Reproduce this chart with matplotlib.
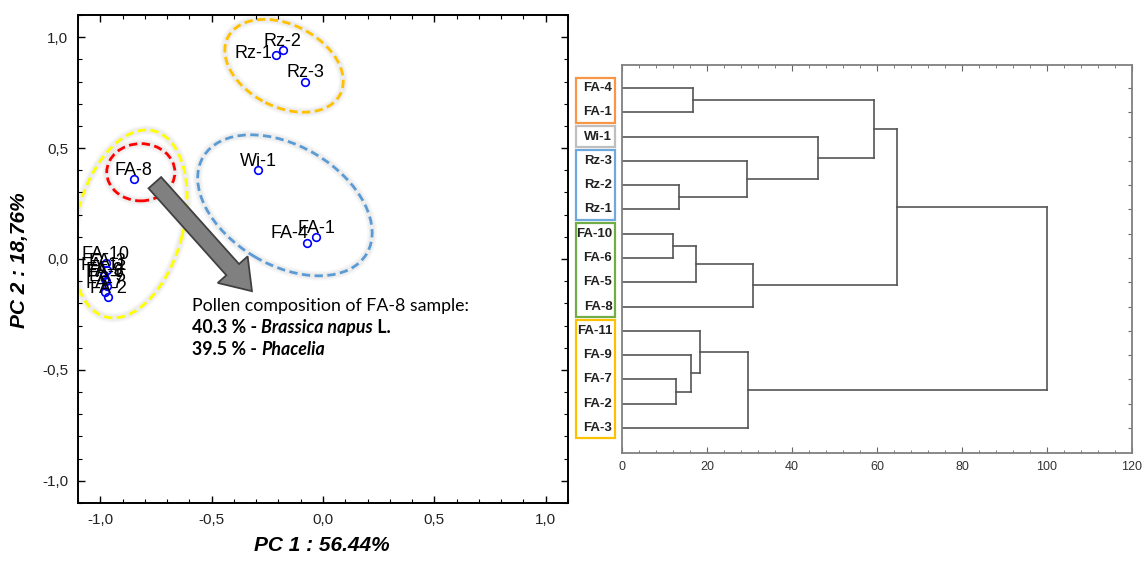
import matplotlib
matplotlib.use("Agg")
import matplotlib.pyplot as plt
from matplotlib.patches import Ellipse, Rectangle
from matplotlib.ticker import MultipleLocator, FuncFormatter

plt.rcParams['font.family'] = ['Liberation Sans', 'DejaVu Sans']

# ---- PCA scores ----
samples = ["Rz-1", "Rz-2", "Rz-3", "Wi-1", "FA-8", "FA-1", "FA-4",
           "FA-10", "FA-3", "FA-11", "FA-9", "FA-6", "FA-5", "FA-7", "FA-2"]
pc1 = [-0.21, -0.18, -0.08, -0.29, -0.85, -0.03, -0.07,
       -0.975, -0.97, -0.985, -0.98, -0.975, -0.97, -0.98, -0.965]
pc2 = [0.92, 0.94, 0.80, 0.40, 0.36, 0.10, 0.07,
       -0.02, -0.05, -0.07, -0.09, -0.10, -0.12, -0.15, -0.17]

# ---- cluster analysis (linkage distance, % of max) ----
leaves = ["FA-4", "FA-1", "Wi-1", "Rz-3", "Rz-2", "Rz-1", "FA-10", "FA-6",
          "FA-5", "FA-8", "FA-11", "FA-9", "FA-7", "FA-2", "FA-3"]
# (cluster a, cluster b, distance); ids 0-14 are leaves, 15+ are merges in order
merges = [(0, 1, 16.7), (4, 5, 13.4), (3, 16, 29.3), (2, 17, 46.0),
          (15, 18, 59.2), (6, 7, 12.0), (20, 8, 17.4), (21, 9, 30.8),
          (19, 22, 64.8), (12, 13, 12.7), (11, 24, 16.2), (10, 25, 18.3),
          (26, 14, 29.6), (23, 27, 100.0)]
group_sizes = [2, 1, 3, 4, 5]
group_colors = ["#F79646", "#BFBFBF", "#6FA8DC", "#70AD47", "#FFC000"]

fig = plt.figure(figsize=(11.42, 5.62), dpi=100)

# ================= left: PCA plot =================
ax1 = fig.add_axes([0.0683, 0.105, 0.4291, 0.8683])
ax1.set_xlim(-1.1, 1.1)
ax1.set_ylim(-1.1, 1.1)

def ring(xy, w, h, ang, color):
    # soft shadow then dashed outline
    for lw, a in [(7, 0.06), (4.5, 0.08)]:
        ax1.add_patch(Ellipse(xy, w, h, angle=ang, fill=False,
                              edgecolor='gray', lw=lw, alpha=a))
    ax1.add_patch(Ellipse(xy, w, h, angle=ang, fill=False, edgecolor=color,
                          lw=2.0, linestyle=(0, (3, 1.6))))

ring((-0.175, 0.871), 0.566, 0.371, -27, "#FFC000")
ring((-0.867, 0.158), 0.866, 0.481, 75.6, "#FFFF00")
ring((-0.818, 0.391), 0.306, 0.258, 0, "#FF0000")
ring((-0.171, 0.242), 0.854, 0.537, -30.8, "#5B9BD5")

ax1.plot(pc1, pc2, 'o', ms=5.5, mfc='none', mec='#0000FF', mew=1.2, zorder=5)

label_pos = {"Rz-1": ((-3, -2), 'right'), "FA-4": ((1, 4), 'right')}
for name, x, y in zip(samples, pc1, pc2):
    off, ha = label_pos.get(name, ((0, 3), 'center'))
    ax1.annotate(name, (x, y), xytext=off, textcoords='offset points',
                 ha=ha, va='baseline', fontsize=13, zorder=6)

ax1.arrow(-0.755, 0.344, 0.436, -0.489, width=0.076, head_width=0.18,
          head_length=0.13, length_includes_head=True,
          fc='#808080', ec='#404040', lw=1.3, zorder=4)

# annotation text
tfont = dict(family=['Lato', 'DejaVu Sans'], fontsize=12.8)
ax1.text(-0.589, -0.249, "Pollen composition of FA-8 sample:", va='bottom', **tfont)
t = ax1.text(-0.589, -0.348, "40.3 % - ", va='bottom', weight='bold', **tfont)
t = ax1.annotate("Brassica napus", xy=(1, 0), xycoords=t, va='bottom',
                 weight='bold', style='italic', **tfont)
ax1.annotate(" L.", xy=(1, 0), xycoords=t, va='bottom', weight='bold', **tfont)
t = ax1.text(-0.589, -0.448, "39.5 % - ", va='bottom', weight='bold', **tfont)
ax1.annotate("Phacelia", xy=(1, 0), xycoords=t, va='bottom',
             weight='bold', style='italic', **tfont)

comma = FuncFormatter(lambda v, p: f"{v:.1f}".replace('.', ','))
for axis in (ax1.xaxis, ax1.yaxis):
    axis.set_major_locator(MultipleLocator(0.5))
    axis.set_minor_locator(MultipleLocator(0.1))
    axis.set_major_formatter(comma)
ax1.tick_params(which='both', direction='in', top=True, right=True,
                labelsize=11, color='black', labelcolor='#222222')
ax1.tick_params(which='major', length=5, width=1, pad=7)
ax1.tick_params(which='minor', length=3, width=0.8)
for s in ax1.spines.values():
    s.set_linewidth(1.4)

fig.text(0.282, 0.030, "PC 1 : 56.44%", ha='center', va='center',
         fontsize=15, weight='bold', style='italic')
fig.text(0.017, 0.537, "PC 2 : 18,76%", ha='center', va='center',
         fontsize=15, weight='bold', style='italic', rotation=90)

# ================= right: dendrogram =================
ax2 = fig.add_axes([0.5447, 0.194, 0.4465, 0.6903])
ax2.set_xlim(0, 120)
ax2.set_ylim(16.03, 0.05)

pos = {i: i + 1 for i in range(len(leaves))}
hgt = {i: 0.0 for i in range(len(leaves))}
lc = '#555555'
for k, (a, b, d) in enumerate(merges):
    cid = len(leaves) + k
    for c in (a, b):
        ax2.plot([hgt[c], d], [pos[c], pos[c]], color=lc, lw=1.2)
    ax2.plot([d, d], [pos[a], pos[b]], color=lc, lw=1.2)
    pos[cid] = (pos[a] + pos[b]) / 2
    hgt[cid] = d

ytr = ax2.get_yaxis_transform()
for i, name in enumerate(leaves):
    ax2.text(-0.019, i + 1, name, transform=ytr, ha='right', va='center',
             fontsize=9.5, weight='bold', color='#222222',
             family=['Liberation Sans Narrow', 'Liberation Sans'])

start = 1
for n, col in zip(group_sizes, group_colors):
    ax2.add_patch(Rectangle((-0.090, start - 0.43), 0.076, n - 1 + 0.86,
                            transform=ytr, fill=False, edgecolor=col,
                            lw=1.6, clip_on=False))
    start += n

ax2.xaxis.set_major_locator(MultipleLocator(20))
ax2.xaxis.set_minor_locator(MultipleLocator(4))
ax2.set_yticks(range(1, len(leaves) + 1))
ax2.tick_params(axis='x', which='both', direction='in', top=True,
                labelsize=9, labelcolor='#333333', color='#666666', pad=6)
ax2.tick_params(axis='x', which='major', length=4)
ax2.tick_params(axis='x', which='minor', length=2)
ax2.tick_params(axis='y', which='both', direction='in', left=False, right=True,
                labelleft=False, length=3, color='#666666')
for s in ax2.spines.values():
    s.set_color('#808080')
    s.set_linewidth(1.3)

fig.savefig("out.png", dpi=100)
